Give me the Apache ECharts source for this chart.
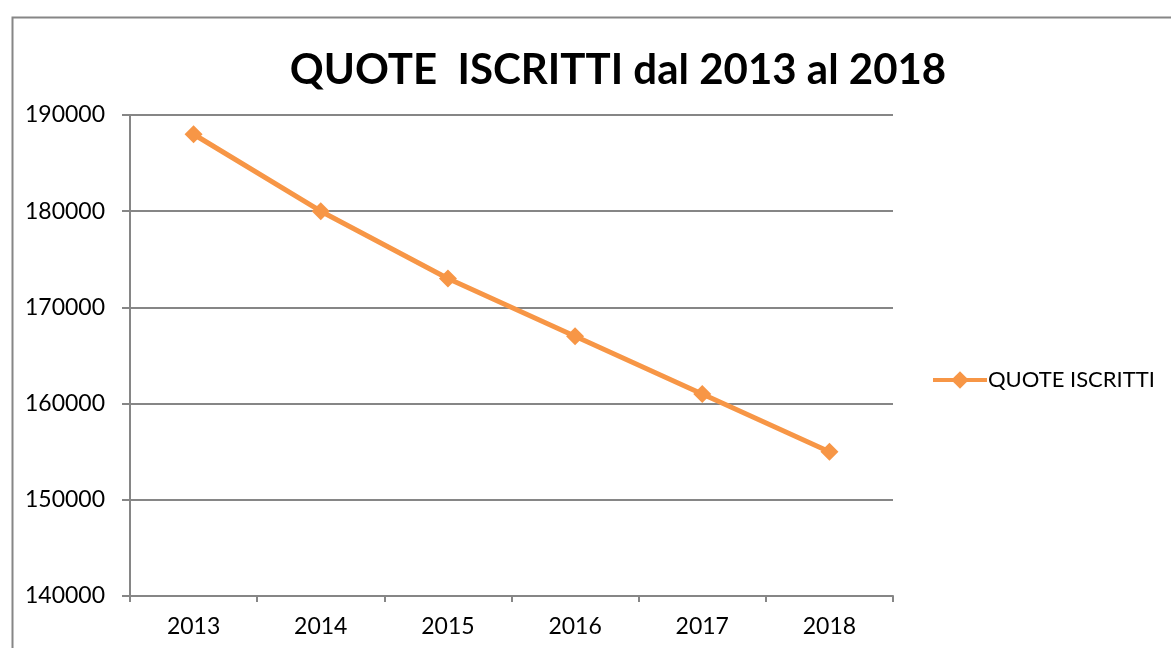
<!DOCTYPE html>
<html><head><meta charset="utf-8">
<script src="https://cdn.jsdelivr.net/npm/echarts@6/dist/echarts.min.js"></script>
<style>html,body{margin:0;padding:0;background:#fff}#c{width:1171px;height:648px}</style>
</head><body><div id="c"></div>
<script>
const categories = ['2013','2014','2015','2016','2017','2018'];
const quoteIscritti = [188000, 180000, 173000, 167000, 161000, 155000];
const seriesName = 'QUOTE ISCRITTI';
const titleText = 'QUOTE  ISCRITTI dal 2013 al 2018';
const FONT = 'Lato, "Open Sans", sans-serif';
const chart = echarts.init(document.getElementById('c'));
chart.setOption({
  animation: false,
  backgroundColor: '#fff',
  graphic: [{type:'rect', left:10, top:15, shape:{width:1300, height:800}, style:{fill:'none', stroke:'#868686', lineWidth:2}, z:-1}],
  title: {text: titleText, left: 613, textAlign:'center', top: 44, textStyle:{fontFamily: FONT, fontSize: 42, fontWeight:'bold', color:'#000'}},
  legend: {left: 926, top: 364, itemWidth: 54, itemHeight: 22, itemGap: 5,
    lineStyle:{width:4, color:'#F79646'},
    textStyle:{fontFamily: FONT, fontSize: 22, color:'#000', padding:[0,0,0,-4]}, data:[seriesName]},
  grid: {left: 130, right: 278, top: 115, bottom: 52},
  xAxis: {type:'category', data: categories, boundaryGap: true,
    axisLine:{lineStyle:{color:'#868686', width:2}},
    axisTick:{show:true, length:6, lineStyle:{color:'#868686', width:2}},
    axisLabel:{fontFamily: FONT, fontSize: 23, color:'#000', margin: 19}},
  yAxis: {type:'value', min:140000, max:190000, interval:10000,
    axisLine:{show:true, lineStyle:{color:'#868686', width:2}},
    axisTick:{show:true, length:8, lineStyle:{color:'#868686', width:2}},
    splitLine:{lineStyle:{color:'#868686', width:2}},
    axisLabel:{fontFamily: FONT, fontSize: 23, color:'#000', margin: 25, formatter: v => String(v)}},
  series: [{name: seriesName, type:'line', data: quoteIscritti, symbol:'diamond', symbolSize:18,
    lineStyle:{color:'#F79646', width:5}, itemStyle:{color:'#F79646'}}]
});
</script></body></html>
